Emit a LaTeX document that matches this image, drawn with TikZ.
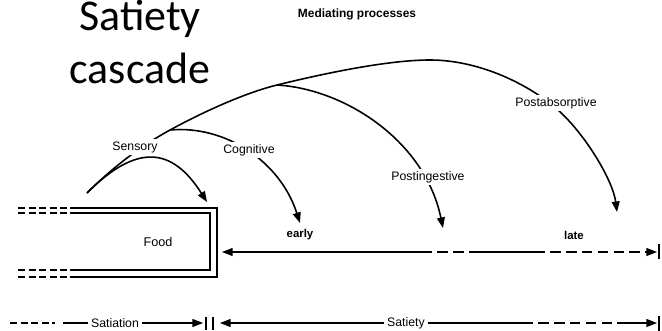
\documentclass[tikz,border=0pt]{standalone}
\usepackage{fontspec}
\setmainfont{Liberation Sans}
\newfontfamily\titlefont{Carlito}
\usetikzlibrary{arrows.meta,positioning}

\begin{document}
\begin{tikzpicture}[
  x=0.02cm, y=0.02cm,
  bigtitle/.style={font=\titlefont\fontsize{25}{31}\selectfont, anchor=base, inner sep=0pt},
  heading/.style={font=\fontsize{6.8}{8}\selectfont\bfseries},
  proclabel/.style={font=\fontsize{7}{8.4}\selectfont, fill=white, inner sep=1.5pt},
  phase/.style={font=\fontsize{6.5}{8}\selectfont\bfseries, inner sep=1pt},
  process/.style={-{Triangle[length=6pt,width=4.5pt]}, line width=0.9pt},
  arrowend/.style={-{Triangle[length=6pt,width=4.5pt]}},
  tube/.style={line width=0.7pt},
  stub/.style={line width=0.7pt, dash pattern=on 4pt off 2pt},
  span/.style={line width=0.8pt},
  spandash/.style={line width=0.8pt, dash pattern=on 6pt off 3pt, dash phase=6pt},
  endbar/.style={line width=1.2pt},
]
  \useasboundingbox (0,0) rectangle (662,331);

  % -- Titles --
  \node[bigtitle] (satiety) at (140,300) {Satiety};
  \node[bigtitle] (cascade) at (140,247) {cascade};
  \node[heading] (mediating) at (357,317) {Mediating processes};

  % -- Food tube --
  \draw[tube] (70,123) -- (217,123) -- (217,54) -- (70,54);
  \draw[tube] (70,118) -- (210,118) -- (210,61) -- (70,61);
  \foreach \y in {123,118,61,54}
    \draw[stub] (18,\y) -- (70,\y);
  \node[font=\fontsize{7.2}{8.4}\selectfont] (food) at (158,89) {Food};

  % -- Mediating processes --
  \coordinate (mouth) at (87,138);
  \coordinate (sensend) at (207,129);
  \coordinate (cogfork) at (170,201);
  \coordinate (cogend) at (300,108);
  \coordinate (ingfork) at (277,246);
  \coordinate (ingend) at (443,103);
  \coordinate (apex) at (430,271);
  \coordinate (absmid) at (558,221);
  \coordinate (absend) at (617,119);

  \draw[process] (mouth) .. controls (137,188) and (172,184) .. (sensend);
  \draw[process] (mouth) .. controls (112,163) and (140,184.5) .. (cogfork)
    .. controls (205,220) and (245,238) .. (ingfork)
    .. controls (330,259) and (390,271) .. (apex)
    .. controls (480,271) and (530,246) .. (absmid)
    .. controls (586,196) and (613,150) .. (absend);
  \draw[process] (cogfork) .. controls (225,206) and (280,170) .. (cogend);
  \draw[process] (ingfork) .. controls (345,242) and (425,190) .. (ingend);

  \node[proclabel] (sensory) at (135,184) {Sensory};
  \node[proclabel] (cognitive) at (249,181) {Cognitive};
  \node[proclabel] (postingestive) at (428,154) {Postingestive};
  \node[proclabel] (postabsorptive) at (556,228) {Postabsorptive};

  % -- Time course --
  \node[phase] (early) at (300,96) {early};
  \node[phase] (late) at (574,96) {late};
  \coordinate (tcleft) at (222,79);
  \coordinate (tc1) at (432,79);
  \coordinate (tc2) at (477,79);
  \coordinate (tc3) at (545,79);
  \coordinate (tcright) at (657,79);
  \draw[span, arrowend] (tc1) -- (tcleft);
  \draw[spandash] (tc1) -- (tc2);
  \draw[span] (tc2) -- (tc3);
  \draw[spandash, arrowend] (tc3) -- (tcright);
  \draw[endbar] (659,72) -- (659,87);

  % -- Satiation / satiety --
  \coordinate (pre1) at (10,8);
  \coordinate (pre2) at (55,8);
  \coordinate (satnstart) at (63,8);
  \coordinate (satnend) at (203,8);
  \coordinate (styleft) at (220,8);
  \coordinate (sty1) at (533,8);
  \coordinate (sty2) at (627,8);
  \coordinate (styright) at (657,8);
  \node[proclabel] (satiation) at (115,8) {Satiation};
  \node[proclabel] (satietylab) at (406,8) {Satiety};
  \draw[stub] (pre1) -- (pre2);
  \draw[span] (satnstart) -- (satiation);
  \draw[span, arrowend] (satiation) -- (satnend);
  \draw[endbar] (206,1) -- (206,14);
  \draw[endbar] (213,1) -- (213,14);
  \draw[span, arrowend] (satietylab) -- (styleft);
  \draw[span] (satietylab) -- (sty1);
  \draw[spandash] (sty1) -- (sty2);
  \draw[span, arrowend] (sty2) -- (styright);
  \draw[endbar] (659,0) -- (659,15);
\end{tikzpicture}
\end{document}
